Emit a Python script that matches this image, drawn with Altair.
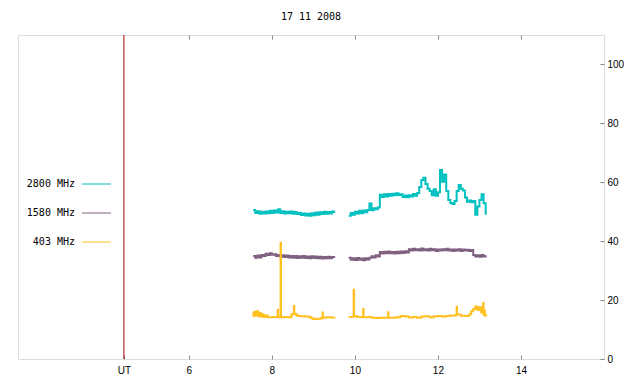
import altair as alt
import pandas as pd

title_text = "17 11 2008"
series_names = ["2800 MHz", "1580 MHz", "403 MHz"]
series_colors = ["#00c0c0", "#7f5f7f", "#ffc020"]

x_domain = [1.885, 16.0]
y_domain = [0, 110]
x_ticks = [6, 8, 10, 12, 14]
y_ticks = [0, 20, 40, 60, 80, 100]
ut_marker = 4.436

# regular sampling for 2800 and 1580 MHz
seg1_start, seg2_start, step = 7.55, 9.85, 0.05

c2800_seg1 = [50.6, 49.6, 50.2, 49.3, 50.0, 49.4, 50.1, 49.5, 50.3, 49.6,
              50.4, 49.7, 50.8, 49.6, 50.2, 49.4, 50.0, 49.5, 50.1, 49.3,
              49.9, 49.2, 49.6, 48.9, 49.4, 48.7, 49.3, 48.6, 49.5, 48.8,
              49.7, 49.0, 49.8, 49.2, 50.0, 49.3, 49.9, 49.4, 50.1, 49.6]
c2800_seg2 = [48.6, 49.6, 49.0, 50.0, 49.4, 50.3, 49.5, 50.4, 49.8, 50.6,
              52.8, 50.5, 51.2, 50.8, 51.4, 55.8, 55.0, 55.9, 55.2, 56.0,
              55.4, 56.1, 55.6, 56.3, 55.7, 55.9, 55.0, 55.5, 54.9, 55.6,
              55.2, 56.0, 55.4, 56.4, 58.4, 60.8, 61.5, 59.4, 57.8, 57.0,
              55.6, 57.6, 55.4, 56.6, 64.2, 60.2, 62.6, 57.0, 54.0, 53.0,
              52.6, 53.6, 57.0, 59.1, 57.8, 57.2, 54.8, 53.4, 53.8, 53.2,
              53.6, 49.0, 51.8, 54.0, 55.9, 52.9, 49.0]

c1580_seg1 = [35.0, 34.4, 35.1, 34.5, 35.3, 35.0, 35.7, 35.3, 35.9, 35.4,
              35.6, 35.0, 35.3, 34.7, 35.2, 34.6, 35.1, 34.5, 35.0, 34.4,
              35.0, 34.3, 34.9, 34.4, 35.0, 34.3, 34.8, 34.2, 34.9, 34.3,
              34.8, 34.2, 34.7, 34.1, 34.6, 34.2, 34.7, 34.2, 34.6, 34.3]
c1580_seg2 = [34.4, 33.7, 34.2, 33.6, 34.3, 33.7, 34.1, 33.5, 34.2, 33.8, 34.4,
              34.9, 34.5, 35.2, 34.8,
              36.3, 35.8, 36.4, 35.9, 36.5, 35.9, 36.3, 35.8, 36.4, 35.9, 36.5, 36.0, 36.6, 36.2,
              37.3, 36.8, 37.4, 36.9, 37.3, 36.8, 37.5, 36.9, 37.3, 36.8,
              37.4, 36.9, 37.3, 36.7, 37.2, 36.8, 37.3, 36.9, 37.4, 36.8,
              37.2, 36.7, 37.2, 36.8, 37.3, 36.7, 37.2, 36.8, 37.1, 36.7, 37.0,
              35.3, 34.8, 35.2, 34.7, 35.3, 34.8, 35.2]

# 403 MHz: irregular sample times (narrow spikes)
c403_seg1_t = [7.53, 7.56, 7.58, 7.61, 7.64, 7.67, 7.70, 7.73, 7.76, 7.80,
               7.85, 7.90, 8.00, 8.13, 8.14, 8.15, 8.20, 8.21, 8.22, 8.30,
               8.40, 8.47, 8.52, 8.53, 8.54, 8.58, 8.62, 8.70, 8.80, 8.90,
               8.95, 9.00, 9.10, 9.18, 9.21, 9.22, 9.23, 9.30, 9.40, 9.51]
c403_seg1 = [15.5, 14.6, 16.0, 14.8, 16.2, 14.5, 15.6, 14.4, 15.2, 14.3,
             14.8, 14.2, 14.3, 14.2, 16.7, 14.2, 14.2, 39.5, 14.2, 14.3,
             14.2, 15.2, 15.4, 18.0, 15.4, 15.0, 14.6, 14.5, 14.4, 14.2,
             13.8, 13.6, 13.7, 13.8, 13.9, 15.8, 14.0, 14.2, 14.1, 14.2]
c403_seg2_t = [9.85, 9.90, 9.96, 9.97, 9.98, 10.05, 10.19, 10.20, 10.21, 10.30,
               10.40, 10.50, 10.60, 10.79, 10.80, 10.81, 10.90, 11.00, 11.10, 11.20,
               11.30, 11.40, 11.50, 11.60, 11.70, 11.80, 11.90, 12.00, 12.10, 12.20,
               12.30, 12.44, 12.45, 12.46, 12.55, 12.65, 12.75, 12.80, 12.85, 12.90,
               12.95, 13.00, 13.04, 13.08, 13.09, 13.10, 13.11, 13.13, 13.16]
c403_seg2 = [14.3, 14.3, 14.4, 23.5, 14.6, 14.3, 14.3, 17.0, 14.2, 14.3,
             14.0, 13.9, 14.0, 14.1, 15.9, 14.0, 14.0, 14.2, 14.6, 14.4,
             14.1, 14.3, 14.0, 14.4, 14.5, 14.2, 14.5, 14.6, 14.4, 14.6,
             14.8, 15.0, 17.7, 15.1, 14.7, 14.6, 15.2, 16.2, 17.0, 17.8,
             16.6, 17.6, 15.8, 17.5, 19.0, 15.0, 16.5, 14.8, 15.2]

rows = []
def add_regular(name, seg, start, vals):
    for i, v in enumerate(vals):
        rows.append({"t": round(start + i * step, 3), "v": v, "series": name, "seg": f"{name}-{seg}", "o": i})

def add_irregular(name, seg, ts, vals):
    for i, (t, v) in enumerate(zip(ts, vals)):
        rows.append({"t": t, "v": v, "series": name, "seg": f"{name}-{seg}", "o": i})

add_regular("2800 MHz", 1, seg1_start, c2800_seg1)
add_regular("2800 MHz", 2, seg2_start, c2800_seg2)
add_regular("1580 MHz", 1, seg1_start, c1580_seg1)
add_regular("1580 MHz", 2, seg2_start, c1580_seg2)
add_irregular("403 MHz", 1, c403_seg1_t, c403_seg1)
add_irregular("403 MHz", 2, c403_seg2_t, c403_seg2)
df = pd.DataFrame(rows)

FONT = "DejaVu Sans Mono"
color_scale = alt.Scale(domain=series_names, range=series_colors)
x_scale = alt.Scale(domain=x_domain, nice=False, zero=False)
y_scale = alt.Scale(domain=y_domain, nice=False)

lines = alt.Chart(df).mark_line(interpolate="step-after").encode(
    x=alt.X("t:Q", scale=x_scale, axis=alt.Axis(
        orient="bottom", title=None, values=[ut_marker] + x_ticks, offset=-4,
        tickSize=4, domain=False, labelPadding=6, grid=False,
        labelExpr="datum.value < 5 ? 'UT' : format(datum.value, 'd')")),
    y=alt.Y("v:Q", scale=y_scale, axis=alt.Axis(
        orient="right", title=None, values=y_ticks, offset=-4, tickSize=4,
        domain=False, labelPadding=3, format="d", grid=False)),
    color=alt.Color("series:N", scale=color_scale, legend=None),
    strokeWidth=alt.StrokeWidth("series:N", scale=alt.Scale(
        domain=series_names, range=[2.0, 2.0, 1.3]), legend=None),
    detail="seg:N",
    order="o:Q",
)

ut_rule = alt.Chart(pd.DataFrame({"t": [ut_marker]})).mark_rule(
    color="#a00000", strokeWidth=1).encode(
    x=alt.X("t:Q", scale=x_scale, axis=alt.Axis(
        orient="top", title=None, values=x_ticks, offset=-4, tickSize=4,
        domain=False, labels=False, grid=False)),
)

leg_df = pd.DataFrame({"series": series_names, "idx": list(range(len(series_names)))})
leg_base = alt.Chart(leg_df).transform_calculate(ly="149 + 29 * datum.idx")
leg_text = leg_base.mark_text(align="right", baseline="middle", font=FONT,
                              fontSize=10, color="black").encode(
    x=alt.value(57),
    y=alt.Y("ly:Q", scale=None, axis=None),
    text="series:N",
)
leg_line = leg_base.mark_rule(strokeWidth=1).encode(
    x=alt.value(64), x2=alt.value(93),
    y=alt.Y("ly:Q", scale=None, axis=None),
    color=alt.Color("series:N", scale=color_scale, legend=None),
)

chart = alt.layer(lines, ut_rule, leg_text, leg_line).resolve_axis(
    x="independent"
).properties(
    width=586, height=324,
    autosize=alt.AutoSizeParams(type="none"),
    padding={"left": 10, "top": 27, "right": 20, "bottom": 17},
    title=alt.TitleParams(title_text, font=FONT, fontSize=10, fontWeight="normal",
                          anchor="middle", color="black", offset=13),
).configure_view(
    stroke="black", strokeWidth=1
).configure_axis(
    labelFont=FONT, labelFontSize=10, labelColor="black", tickColor="black",
    grid=False,
).configure(background="white")

chart.save("out.html", embed_options={"renderer": "svg", "actions": False})
